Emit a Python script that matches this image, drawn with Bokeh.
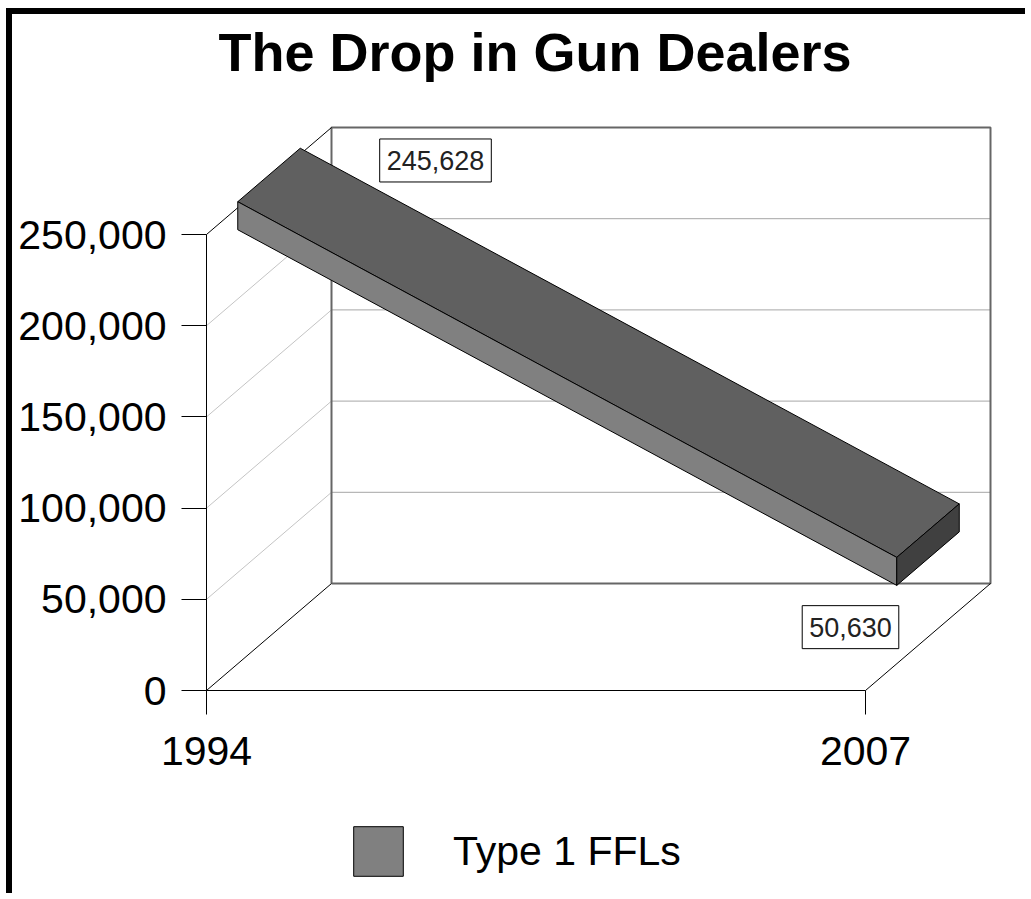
from bokeh.plotting import figure
from bokeh.models import Range1d, FixedTicker, NumeralTickFormatter, Label, Legend, LegendItem
from bokeh.embed import file_html
from bokeh.resources import INLINE

# ---- data ----
years = [1994, 2007]
dealers = [245628, 50630]
year_labels = ["1994", "2007"]
value_ticks = [0, 50000, 100000, 150000, 200000, 250000]
value_labels = ["245,628", "50,630"]
series_name = "Type 1 FFLs"
title_text = "The Drop in Gun Dealers"

# ---- layout constants (canvas pixels) ----
W, H = 1019, 885
ORIGIN_X, ORIGIN_Y = 194, 676     # canvas position of (first year, 0) on the front plane
PX_PER_YEAR = 659 / 13.0
PX_PER_UNIT = 456 / 250000.0
DEPTH_X_PX, DEPTH_Y_PX = 125, 107
HALF_PX = 14
Z_FRONT, Z_BACK = 0.25, 0.75
TITLE_X, TITLE_Y = 206, 37

x0 = years[0]
x_start = x0 - ORIGIN_X / PX_PER_YEAR
x_end = x0 + (W - ORIGIN_X) / PX_PER_YEAR
y_start = -(H - ORIGIN_Y) / PX_PER_UNIT
y_end = ORIGIN_Y / PX_PER_UNIT
DX = DEPTH_X_PX / PX_PER_YEAR
DY = DEPTH_Y_PX / PX_PER_UNIT
HALF = HALF_PX / PX_PER_UNIT
VMAX = value_ticks[-1]


def P(x, v, z):
    return (x + z * DX, v + z * DY)


p = figure(width=W, height=H, output_backend="svg", toolbar_location=None,
           x_range=Range1d(x_start, x_end), y_range=Range1d(y_start, y_end),
           min_border_left=0, min_border_right=0, min_border_top=0, min_border_bottom=0)
p.styles = {"margin-left": "6px", "margin-top": "8px",
            "border-left": "6px solid black", "border-top": "6px solid black"}
p.title.visible = False
p.outline_line_color = None
p.xgrid.visible = False
p.ygrid.visible = False
p.background_fill_color = "white"
p.border_fill_color = "white"

FONT = "Liberation Sans"

# title (as text inside the frame)
p.add_layout(Label(x=x_start + TITLE_X / PX_PER_YEAR, y=(ORIGIN_Y - TITLE_Y) / PX_PER_UNIT,
                   text=title_text, text_align="left", text_baseline="alphabetic",
                   text_font=FONT, text_font_size="54px", text_font_style="bold",
                   text_color="black"))

# axes (drawn at fixed data locations so that they take no side space)
xa = p.xaxis[0]
xa.fixed_location = 0
xa.ticker = FixedTicker(ticks=years)
xa.major_label_overrides = {y: s for y, s in zip(years, year_labels)}
xa.bounds = (years[0], years[-1])
xa.major_tick_out = 24
xa.major_tick_in = 0
xa.minor_tick_line_color = None
xa.major_label_text_font = FONT
xa.major_label_text_font_size = "41px"
xa.major_label_text_color = "black"
xa.major_label_standoff = 22
xa.axis_line_color = "black"
xa.major_tick_line_color = "black"

ya = p.yaxis[0]
ya.fixed_location = years[0]
ya.ticker = FixedTicker(ticks=value_ticks)
ya.formatter = NumeralTickFormatter(format="0,0")
ya.bounds = (value_ticks[0], VMAX)
ya.major_tick_out = 25
ya.major_tick_in = 0
ya.minor_tick_line_color = None
ya.major_label_text_font = FONT
ya.major_label_text_font_size = "41px"
ya.major_label_text_color = "black"
ya.major_label_standoff = 15
ya.axis_line_color = "black"
ya.major_tick_line_color = "black"

# ---- walls ----
inner = value_ticks[1:-1]
p.multi_line(xs=[[years[0] + DX, years[-1] + DX] for v in inner],
             ys=[[v + DY, v + DY] for v in inner],
             line_color="#a6a6a6", line_width=1)
p.multi_line(xs=[[years[0], years[0] + DX] for v in inner],
             ys=[[v, v + DY] for v in inner],
             line_color="#c4c4c4", line_width=1)
p.line(x=[years[0] + DX, years[-1] + DX, years[-1] + DX, years[0] + DX, years[0] + DX],
       y=[DY, DY, VMAX + DY, VMAX + DY, DY],
       line_color="#666666", line_width=2)
p.multi_line(xs=[[years[0], years[0] + DX], [years[0], years[0] + DX], [years[-1], years[-1] + DX]],
             ys=[[VMAX, VMAX + DY], [0, DY], [0, DY]],
             line_color="black", line_width=1)

# ---- ribbon ----
top_xs, top_ys, front_xs, front_ys = [], [], [], []
for i in range(len(years) - 1):
    xa_, xb_ = years[i], years[i + 1]
    va, vb = dealers[i], dealers[i + 1]
    pts = [P(xa_, va + HALF, Z_FRONT), P(xb_, vb + HALF, Z_FRONT),
           P(xb_, vb + HALF, Z_BACK), P(xa_, va + HALF, Z_BACK)]
    top_xs.append([q[0] for q in pts]); top_ys.append([q[1] for q in pts])
    pts = [P(xa_, va + HALF, Z_FRONT), P(xb_, vb + HALF, Z_FRONT),
           P(xb_, vb - HALF, Z_FRONT), P(xa_, va - HALF, Z_FRONT)]
    front_xs.append([q[0] for q in pts]); front_ys.append([q[1] for q in pts])

p.patches(xs=top_xs, ys=top_ys, fill_color="#606060", line_color="black", line_width=1)
front = p.patches(xs=front_xs, ys=front_ys, fill_color="#808080", line_color="black", line_width=1)
xe, ve = years[-1], dealers[-1]
cap = [P(xe, ve + HALF, Z_FRONT), P(xe, ve + HALF, Z_BACK), P(xe, ve - HALF, Z_BACK), P(xe, ve - HALF, Z_FRONT)]
p.patch(x=[q[0] for q in cap], y=[q[1] for q in cap], fill_color="#404040", line_color="black", line_width=1)

# ---- value labels ----
label_offsets = [(229, 82), (-15, -29)]
for yr, val, txt, (ox, oy) in zip(years, dealers, value_labels, label_offsets):
    p.add_layout(Label(x=yr, y=val, text=txt, x_offset=ox, y_offset=oy,
                       text_align="center", text_baseline="middle",
                       text_font=FONT, text_font_size="27px", text_color="#222222",
                       border_line_color="black", border_line_width=1,
                       background_fill_color="white", padding=(7, 12)))

# ---- legend ----
legend = Legend(items=[LegendItem(label=series_name, renderers=[front])],
                location=(335, 17), orientation="vertical",
                glyph_width=62, glyph_height=62, label_standoff=44,
                label_text_font=FONT, label_text_font_size="41px", label_text_color="black",
                border_line_color=None, background_fill_alpha=0,
                padding=0, margin=0, spacing=0)
p.add_layout(legend, "center")

open("out.html", "w").write(file_html(p, INLINE))
